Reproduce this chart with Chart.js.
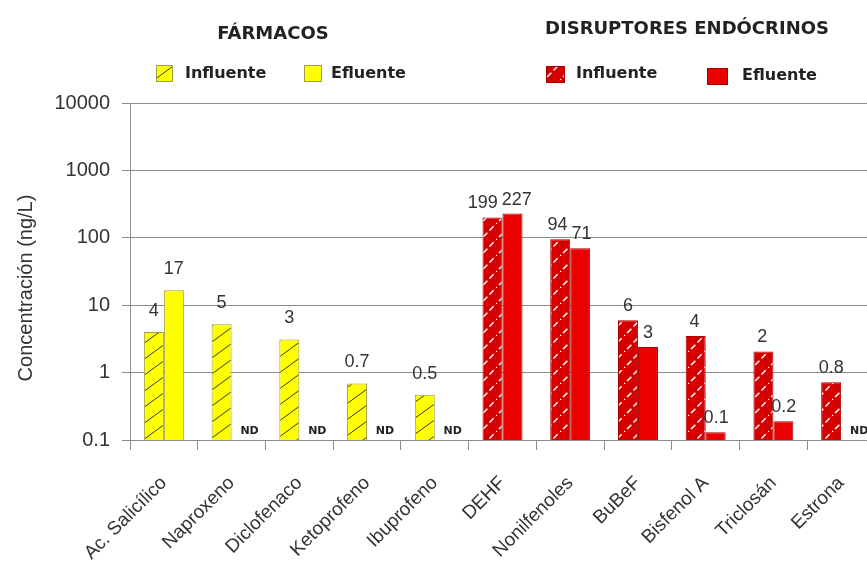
<!DOCTYPE html>
<html>
<head>
<meta charset="utf-8">
<script src="https://cdn.jsdelivr.net/npm/chart.js@4.4.1/dist/chart.umd.min.js"></script>
<style>
  body { margin: 0; background: #fff; overflow: hidden; }
  #caja { position: relative; width: 880px; height: 568px; }
</style>
</head>
<body>
<div id="caja"><canvas id="grafico" width="880" height="568"></canvas></div>
<script>
// datos
let compuestos = ["Ac. Salicílico", "Naproxeno", "Diclofenaco", "Ketoprofeno", "Ibuprofeno",
  "DEHF", "Nonilfenoles", "BuBeF", "Bisfenol A", "Triclosán", "Estrona"];
let grupoDe = [0, 0, 0, 0, 0, 1, 1, 1, 1, 1, 1];
let titulosGrupo = ["FÁRMACOS", "DISRUPTORES ENDÓCRINOS"];

let influente = [4, 5.2, 3.1, 0.69, 0.47, 200, 95, 6, 3.5, 2.06, 0.72];
let efluente = [16.7, null, null, null, null, 229, 70, 2.4, 0.13, 0.19, null];
let etiquetasInfluente = ["4", "5", "3", "0.7", "0.5", "199", "94", "6", "4", "2", "0.8"];
let etiquetasEfluente = ["17", "ND", "ND", "ND", "ND", "227", "71", "3", "0.1", "0.2", "ND"];

let valoresEje = [0.1, 1, 10, 100, 1000, 10000];
let textosEje = ["0.1", "1", "10", "100", "1000", "10000"];

// estilos
let gris = "#8c8c8c";
let texto = "#333333";

let canvas = document.getElementById("grafico");
let ctx = canvas.getContext("2d");

// rayado diagonal para "Influente"
function rayado(fondo, linea, w, h, guiones) {
  let c = document.createElement("canvas");
  c.width = w;
  c.height = h;
  let g = c.getContext("2d");
  g.fillStyle = fondo;
  g.fillRect(0, 0, w, h);
  g.strokeStyle = linea;
  g.lineWidth = guiones ? 1.5 : 1;
  if (guiones) g.setLineDash(guiones);
  g.beginPath();
  g.moveTo(-w, 2 * h);
  g.lineTo(2 * w, -h);
  g.stroke();
  return ctx.createPattern(c, "repeat");
}

let amarilloRayado = rayado("#ffff00", "#3a3a1a", 22, 16, null);
let rojoRayado = rayado("#d40000", "#ffffff", 16, 16, [6, 3]);
let amarillo = "#ffff00";
let rojo = "#ea0000";

let fondosInf = compuestos.map((c, i) => grupoDe[i] === 0 ? amarilloRayado : rojoRayado);
let fondosEf = compuestos.map((c, i) => grupoDe[i] === 0 ? amarillo : rojo);
let bordes = compuestos.map((c, i) => grupoDe[i] === 0 ? "#9c9c4a" : "#a80000");

// etiquetas de valor y ND
let etiquetas = {
  id: "etiquetas",
  afterDatasetsDraw(chart) {
    let c = chart.ctx;
    let base = chart.chartArea.bottom;
    let inf = chart.getDatasetMeta(0).data;
    let ef = chart.getDatasetMeta(1).data;
    c.save();
    c.textAlign = "center";
    c.textBaseline = "middle";
    compuestos.forEach((nombre, i) => {
      let sube = grupoDe[i] === 0 ? 21 : 14;
      c.font = "18px 'Liberation Sans'";
      let x1 = inf[i].x;
      let x2 = ef[i].x;
      // separar etiquetas que se pisan
      if (efluente[i] !== null) {
        let w1 = c.measureText(etiquetasInfluente[i]).width;
        let w2 = c.measureText(etiquetasEfluente[i]).width;
        let sobra = w1 / 2 + w2 / 2 + 4 - (x2 - x1);
        if (sobra > 0) {
          x1 -= sobra * 0.7;
          x2 += sobra * 0.3;
        }
      }
      c.fillStyle = texto;
      c.fillText(etiquetasInfluente[i], x1, inf[i].y - sube);
      if (efluente[i] === null) {
        c.font = "bold 11px 'DejaVu Sans'";
        c.fillStyle = "#222";
        c.fillText(etiquetasEfluente[i], ef[i].x + 8, base - 9);
      } else {
        c.fillText(etiquetasEfluente[i], x2, ef[i].y - sube);
      }
    });
    c.restore();
  }
};

// leyendas por grupo y título del eje
let leyendas = {
  id: "leyendas",
  afterDraw(chart) {
    let c = chart.ctx;
    let ds = chart.data.datasets;
    c.save();
    c.fillStyle = "#222";
    c.textBaseline = "middle";
    c.textAlign = "center";
    c.font = "bold 18px 'DejaVu Sans'";
    c.fillText(titulosGrupo[0], 273, 34);
    c.fillText(titulosGrupo[1], 687, 29);

    function caja(x, y, w, h, fondo, borde) {
      c.fillStyle = fondo;
      c.fillRect(x, y, w, h);
      c.strokeStyle = borde;
      c.lineWidth = 1;
      c.strokeRect(x + 0.5, y + 0.5, w - 1, h - 1);
    }
    caja(156, 65, 17, 17, amarilloRayado, "#9c9c4a");
    caja(304, 65, 18, 17, amarillo, "#9c9c4a");
    caja(546, 66, 19, 17, rojoRayado, "#a80000");
    caja(707, 68, 21, 17, rojo, "#a80000");

    c.fillStyle = "#222";
    c.textAlign = "left";
    c.font = "bold 16px 'DejaVu Sans'";
    c.fillText(ds[0].label, 185, 74);
    c.fillText(ds[1].label, 331, 74);
    c.fillText(ds[0].label, 576, 74);
    c.fillText(ds[1].label, 742, 76);

    c.translate(26, 288);
    c.rotate(-Math.PI / 2);
    c.textAlign = "center";
    c.font = "20px 'Liberation Sans'";
    c.fillStyle = texto;
    c.fillText("Concentración (ng/L)", 0, 0);
    c.restore();
  }
};

let chart = new Chart(ctx, {
  type: "bar",
  data: {
    labels: compuestos,
    datasets: [
      {
        label: "Influente",
        data: influente,
        backgroundColor: fondosInf,
        borderColor: bordes,
        borderWidth: 1
      },
      {
        label: "Efluente",
        data: efluente,
        backgroundColor: fondosEf,
        borderColor: bordes,
        borderWidth: 1
      }
    ]
  },
  plugins: [etiquetas, leyendas],
  options: {
    responsive: false,
    animation: false,
    categoryPercentage: 0.59,
    barPercentage: 1,
    layout: { padding: { top: 103, right: 5, bottom: 0, left: 0 } },
    plugins: {
      legend: { display: false },
      tooltip: { enabled: false }
    },
    scales: {
      x: {
        grid: { display: true, drawOnChartArea: false, offset: true, tickLength: 10, color: gris },
        border: { color: gris },
        ticks: {
          autoSkip: false,
          minRotation: 45,
          maxRotation: 45,
          padding: 22,
          color: texto,
          font: { family: "Liberation Sans", size: 19 }
        },
        afterFit: s => { s.height = 128; }
      },
      y: {
        type: "logarithmic",
        min: 0.1,
        max: 10000,
        afterBuildTicks: s => { s.ticks = valoresEje.map(v => ({ value: v, major: true })); },
        grid: { color: gris, tickLength: 8 },
        border: { color: gris },
        ticks: {
          padding: 12,
          color: texto,
          font: { family: "Liberation Sans", size: 20 },
          callback: v => textosEje[valoresEje.indexOf(v)]
        },
        afterFit: s => { s.width = 130; }
      }
    }
  }
});
</script>
</body>
</html>
